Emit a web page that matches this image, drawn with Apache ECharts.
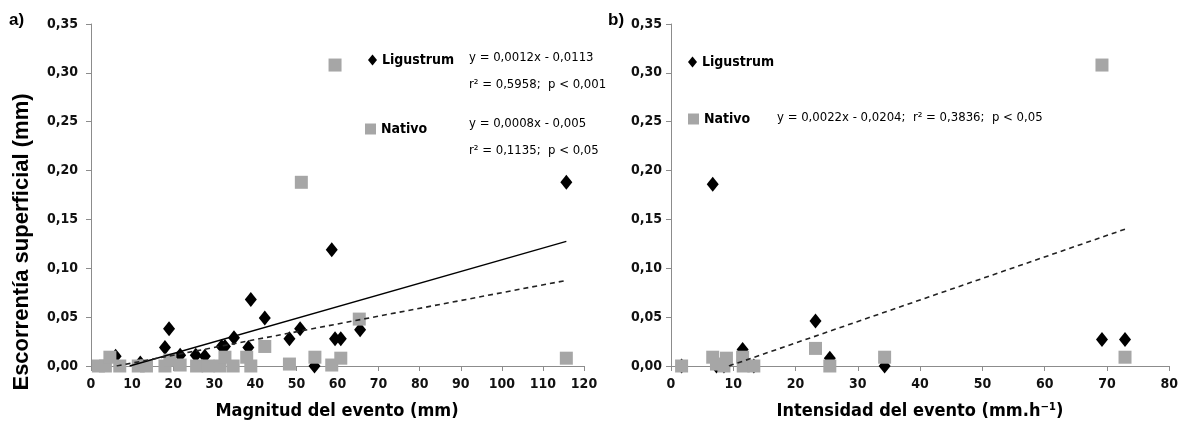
<!DOCTYPE html>
<html><head><meta charset="utf-8">
<script src="https://cdn.jsdelivr.net/npm/echarts@6/dist/echarts.min.js"></script>
<style>html,body{margin:0;padding:0;background:#fff}#c{width:1181px;height:429px}</style>
</head><body><div id="c"></div>
<script>
// ---- data ----
const yTicks = [0, 0.05, 0.10, 0.15, 0.20, 0.25, 0.30, 0.35];
const magTicks = [0,10,20,30,40,50,60,70,80,90,100,110,120];
const intTicks = [0,10,20,30,40,50,60,70,80];

// Panel a: Magnitud del evento (mm) vs escorrentía (mm)
const magLigustrum = [[6,0.010],[12,0.003],[18,0.019],[19,0.038],[21.7,0.011],[25.5,0.011],[27.7,0.010],[31.8,0.020],[32.6,0.020],[34.8,0.029],[38.3,0.019],[38.9,0.068],[42.3,0.049],[48.3,0.028],[50.9,0.038],[54.4,0.0],[58.6,0.119],[59.4,0.028],[60.8,0.028],[65.5,0.037],[115.7,0.188]];
const magNativo = [[1.8,0],[3.5,0],[4.6,0.009],[7,0],[11.5,0],[13.5,0],[18,0],[19.2,0.006],[21.7,0.001],[25.7,0],[28.5,0],[31.4,0],[32.6,0.009],[34.6,0],[37.9,0.009],[38.9,0],[42.3,0.020],[48.3,0.002],[51.2,0.188],[54.5,0.009],[58.6,0.001],[59.4,0.308],[60.8,0.008],[65.3,0.048],[115.7,0.008]];
const magTrendLigustrum = [[9.4,0],[115.7,0.1275]];
const magTrendNativo = [[6.25,0],[115.7,0.0876]];

// Panel b: Intensidad del evento (mm.h-1) vs escorrentía (mm)
const intLigustrum = [[1.7,0],[6.7,0.186],[7.3,0],[8.5,0],[8.9,0.002],[11.5,0.017],[13.3,0],[23.2,0.046],[25.5,0.008],[34.3,0],[69.2,0.027],[72.9,0.027]];
const intNativo = [[1.7,0],[6.7,0.009],[7.3,0.002],[8.5,0],[8.9,0.008],[11.5,0.009],[11.6,0],[13.3,0],[23.2,0.018],[25.5,0],[34.3,0.009],[69.2,0.308],[72.9,0.009]];
const intTrendNativo = [[9.3,0],[72.9,0.140]];

const eqA1 = ['y = 0,0012x - 0,0113', 'r² = 0,5958;  p < 0,001'];
const eqA2 = ['y = 0,0008x - 0,005', 'r² = 0,1135;  p < 0,05'];
const eqB = 'y = 0,0022x - 0,0204;  r² = 0,3836;  p < 0,05';

// ---- chart ----
const NF = "'Liberation Sans Narrow','Arial Narrow','DejaVu Sans Condensed',sans-serif";
const AX = '#8c8c8c';
const GRAY = '#a6a6a6';
const fmtY = v => v.toFixed(2).replace('.', ',');

function xAx(grid, max) {
  return {gridIndex: grid, type: 'value', min: 0, max: max, interval: 10,
    axisLine: {show: true, onZero: false, lineStyle: {color: AX, width: 1}},
    axisTick: {show: true, inside: false, length: 5, lineStyle: {color: AX}},
    axisLabel: {fontFamily: NF, fontWeight: 'bold', fontSize: 14, color: '#111', margin: 11},
    splitLine: {show: false}};
}
function yAx(grid, margin) {
  return {gridIndex: grid, type: 'value', min: 0, max: 0.35, interval: 0.05,
    axisLine: {show: true, lineStyle: {color: AX, width: 1}},
    axisTick: {show: true, inside: false, length: 5, lineStyle: {color: AX}},
    axisLabel: {fontFamily: NF, fontWeight: 'bold', fontSize: 14, color: '#111', margin: margin, formatter: fmtY},
    splitLine: {show: false}};
}
const dia = {symbol: 'diamond', symbolSize: [12, 15], itemStyle: {color: '#000', opacity: 1}};
const sq = {symbol: 'rect', symbolSize: 13, itemStyle: {color: GRAY, opacity: 1}};

const chart = echarts.init(document.getElementById('c'), null, {renderer: 'canvas'});
const legText = {fontFamily: NF, fontWeight: 'bold', fontSize: 14, color: '#000'};
const eqFont = "13px " + NF;
chart.setOption({
  animation: false,
  grid: [
    {left: 91, top: 24, width: 493, height: 342},
    {left: 671, top: 24, width: 499, height: 342}
  ],
  xAxis: [xAx(0, 120), xAx(1, 80)],
  yAxis: [yAx(0, 13), yAx(1, 9)],
  legend: [
    {data: [{name: 'Ligustrum', icon: 'diamond', itemStyle: {color: '#000'}}], left: 363, top: 48, itemWidth: 9, itemHeight: 11, itemGap: 2, textStyle: legText, selectedMode: false},
    {data: [{name: 'Nativo', icon: 'rect', itemStyle: {color: GRAY}}], left: 360, top: 117, itemWidth: 11, itemHeight: 11, textStyle: legText, selectedMode: false},
    {data: [{name: 'Ligustrum', icon: 'diamond', itemStyle: {color: '#000'}}], left: 683, top: 50, itemWidth: 9, itemHeight: 11, textStyle: legText, selectedMode: false},
    {data: [{name: 'Nativo', icon: 'rect', itemStyle: {color: GRAY}}], left: 683, top: 107, itemWidth: 11, itemHeight: 11, textStyle: legText, selectedMode: false}
  ],
  series: [
    Object.assign({type: 'scatter', name: 'Ligustrum', xAxisIndex: 0, yAxisIndex: 0, data: magLigustrum, z: 3}, dia),
    Object.assign({type: 'scatter', name: 'Nativo', xAxisIndex: 0, yAxisIndex: 0, data: magNativo, z: 4}, sq),
    {type: 'line', name: 'tA1', xAxisIndex: 0, yAxisIndex: 0, data: magTrendLigustrum, symbol: 'none', lineStyle: {color: '#000', width: 1.3}, z: 5},
    {type: 'line', name: 'tA2', xAxisIndex: 0, yAxisIndex: 0, data: magTrendNativo, symbol: 'none', lineStyle: {color: '#222', width: 1.6, type: [5, 4]}, z: 5},
    Object.assign({type: 'scatter', name: 'Ligustrum', xAxisIndex: 1, yAxisIndex: 1, data: intLigustrum, z: 3}, dia),
    Object.assign({type: 'scatter', name: 'Nativo', xAxisIndex: 1, yAxisIndex: 1, data: intNativo, z: 4}, sq),
    {type: 'line', name: 'tB', xAxisIndex: 1, yAxisIndex: 1, data: intTrendNativo, symbol: 'none', lineStyle: {color: '#222', width: 1.6, type: [5, 4]}, z: 5}
  ],
  graphic: [
    {type: 'text', left: 9, top: 12, style: {text: 'a)', font: "bold 17px 'Liberation Sans', Arial, sans-serif", fill: '#000'}},
    {type: 'text', left: 608, top: 12, style: {text: 'b)', font: "bold 17px 'Liberation Sans', Arial, sans-serif", fill: '#000'}},
    {type: 'text', x: 22, y: 242, rotation: Math.PI / 2, style: {text: 'Escorrentía superficial (mm)', font: "bold 22px 'Liberation Sans', Arial, sans-serif", fill: '#000', align: 'center', verticalAlign: 'middle'}},
    {type: 'text', x: 337, y: 411, style: {text: 'Magnitud del evento (mm)', font: "bold 18px " + NF, fill: '#000', align: 'center', verticalAlign: 'middle'}},
    {type: 'text', x: 920, y: 411, style: {text: 'Intensidad del evento (mm.h⁻¹)', font: "bold 18px " + NF, fill: '#000', align: 'center', verticalAlign: 'middle'}},
    {type: 'text', x: 469, y: 58, style: {text: eqA1[0], font: eqFont, fill: '#000', align: 'left', verticalAlign: 'middle'}},
    {type: 'text', x: 469, y: 85, style: {text: eqA1[1], font: eqFont, fill: '#000', align: 'left', verticalAlign: 'middle'}},
    {type: 'text', x: 469, y: 124, style: {text: eqA2[0], font: eqFont, fill: '#000', align: 'left', verticalAlign: 'middle'}},
    {type: 'text', x: 469, y: 151, style: {text: eqA2[1], font: eqFont, fill: '#000', align: 'left', verticalAlign: 'middle'}},
    {type: 'text', x: 777, y: 118, style: {text: eqB, font: eqFont, fill: '#000', align: 'left', verticalAlign: 'middle'}}
  ]
});
</script></body></html>
